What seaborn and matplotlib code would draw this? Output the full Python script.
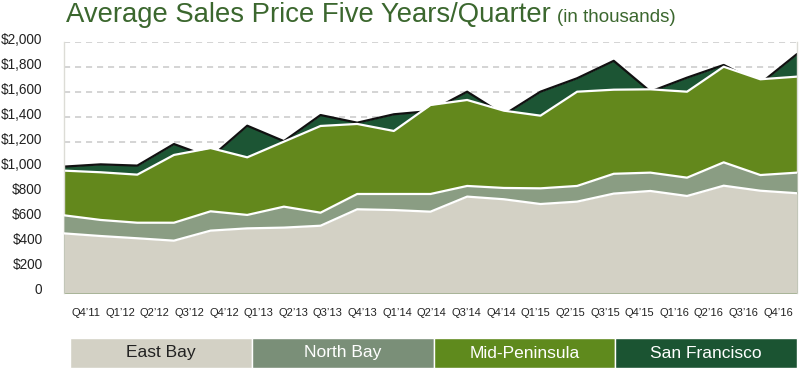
import matplotlib
matplotlib.use("Agg")
import matplotlib.pyplot as plt
import matplotlib.transforms as mtransforms
from matplotlib.patches import Rectangle
import seaborn as sns
import pandas as pd
import numpy as np

quarters = ["Q4’11", "Q1’12", "Q2’12", "Q3’12", "Q4’12", "Q1’13", "Q2’13", "Q3’13",
            "Q4’13", "Q1’14", "Q2’14", "Q3’14", "Q4’14", "Q1’15", "Q2’15", "Q3’15",
            "Q4’15", "Q1’16", "Q2’16", "Q3’16", "Q4’16"]
east_bay = [475, 454, 436, 417, 497, 515, 521, 536, 667, 661, 648, 768, 747, 709, 728,
            792, 813, 773, 855, 815, 795]
north_bay = [619, 582, 560, 560, 651, 622, 688, 640, 789, 789, 789, 853, 837, 834, 853,
             950, 959, 919, 1041, 940, 959]
mid_peninsula = [975, 962, 943, 1100, 1155, 1081, 1206, 1331, 1347, 1291, 1498, 1538,
                 1453, 1413, 1604, 1620, 1623, 1604, 1803, 1703, 1724]
san_francisco = [1007, 1025, 1015, 1187, 1080, 1333, 1210, 1418, 1357, 1424, 1450, 1604,
                 1420, 1604, 1711, 1850, 1605, 1716, 1817, 1670, 1904]
series_names = ["East Bay", "North Bay", "Mid-Peninsula", "San Francisco"]
y_ticks = [0, 200, 400, 600, 800, 1000, 1200, 1400, 1600, 1800, 2000]
y_tick_labels = ["0", "$200", "$400", "$600", "$800", "$1,000", "$1,200", "$1,400",
                 "$1,600", "$1,800", "$2,000"]

colors = {"East Bay": "#d3d1c5", "North Bay": "#8a9d83",
          "Mid-Peninsula": "#63881c", "San Francisco": "#1c5534"}
legend_colors = {"East Bay": "#d3d1c5", "North Bay": "#7a8f78",
                 "Mid-Peninsula": "#5f8a1d", "San Francisco": "#1b5432"}
edge_colors = {"East Bay": "white", "North Bay": "white",
               "Mid-Peninsula": "white", "San Francisco": "#111111"}

sns.set_theme(style="white")
plt.rcParams["font.family"] = ["Liberation Sans", "DejaVu Sans"]

df = pd.DataFrame({"q": np.arange(len(quarters)), "East Bay": east_bay,
                   "North Bay": north_bay, "Mid-Peninsula": mid_peninsula,
                   "San Francisco": san_francisco})

W, H = 800, 369
fig = plt.figure(figsize=(8, 3.69), dpi=100)
ax_left, ax_right, ax_top, ax_bottom = 64, 797, 42, 293
ax = fig.add_axes([ax_left / W, 1 - ax_bottom / H, (ax_right - ax_left) / W,
                   (ax_bottom - ax_top) / H])

# gridlines
for v in y_ticks[1:]:
    ax.axhline(v, color="#c9c9c9", lw=1.1, ls=(0, (4.0, 3.2)), zorder=0)

z = 1
for name in ["San Francisco", "Mid-Peninsula", "North Bay", "East Bay"]:
    ax.fill_between(df["q"], 0, df[name], color=colors[name], lw=0, zorder=z)
    sns.lineplot(data=df, x="q", y=name, ax=ax, color=edge_colors[name],
                 lw=1.6, zorder=z + 0.5, legend=False)
    z += 1

n = len(quarters)
ax.set_xlim(0, n - 1)
ax.set_ylim(0, 2000)
# category labels sit on their own evenly spaced slots (85.5px .. 778px)
px_per_step = (ax_right - ax_left) / (n - 1)
label_pos = [(85.5 + 34.63 * i - ax_left) / px_per_step for i in range(n)]
ax.set_xticks(label_pos)
ax.set_xticklabels(quarters, fontsize=8, color="#222222")
ax.set_yticks(y_ticks)
ax.set_yticklabels(y_tick_labels, fontsize=9.8, color="#222222")
ax.tick_params(axis="y", length=0, pad=15.5)
ax.tick_params(axis="x", length=0, pad=11)
offset = mtransforms.ScaledTranslation(0, 4 / 100, fig.dpi_scale_trans)
for lab in ax.get_yticklabels():
    lab.set_transform(lab.get_transform() + offset)
    lab.set_horizontalalignment("right")
ax.set_xlabel("")
ax.set_ylabel("")
for s in ["top", "bottom"]:
    ax.spines[s].set_visible(False)
ax.spines["left"].set_color("#dcdcd6")
ax.spines["left"].set_linewidth(1)
ax.spines["right"].set_color("#dcdcd6")
ax.spines["right"].set_linewidth(1)

# title
base = 1 - 21.5 / H
t = fig.text(66 / W, base, "Average Sales Price Five Years/Quarter",
             fontsize=19.8, color="#3b672e", ha="left", va="baseline")
fig.canvas.draw()
bb = t.get_window_extent()
fig.text((bb.x1 + 6) / W, base, "(in thousands)", fontsize=13.5,
         color="#3b672e", ha="left", va="baseline")

# legend boxes
x0, x1 = 70, 797
w = (x1 - x0) / 4
for i, name in enumerate(series_names):
    left = x0 + i * w
    fig.patches.append(Rectangle((left / W, 1 - 368 / H), w / W, 30 / H,
                                 transform=fig.transFigure, facecolor=legend_colors[name],
                                 edgecolor="white", lw=1))
    fig.text((left + w / 2) / W, 1 - 353 / H, name, fontsize=12.5,
             color="#222222" if name == "East Bay" else "white",
             ha="center", va="center")

fig.savefig("out.png", dpi=100)
